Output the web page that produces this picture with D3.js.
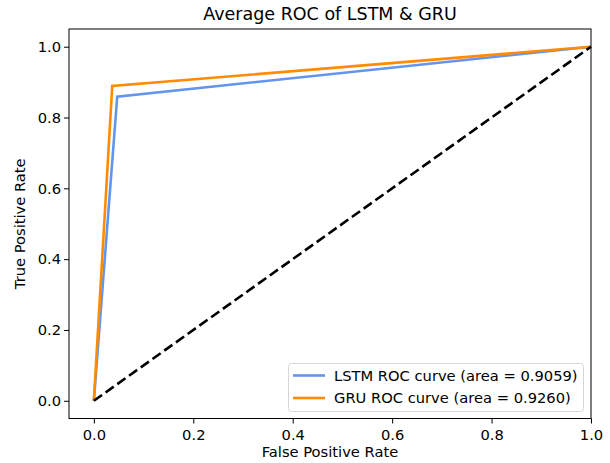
<!DOCTYPE html>
<meta charset="utf-8">
<script src="https://d3js.org/d3.v7.min.js"></script>
<style>
  body { margin: 0; background: #fff; }
  text { font-family: "DejaVu Sans", sans-serif; fill: #000; }
</style>
<div id="chart"></div>
<script>

// ROC points
var lstmFpr = [0, 0.047, 1];
var lstmTpr = [0, 0.859, 1];
var gruFpr = [0, 0.037, 1];
var gruTpr = [0, 0.889, 1];
var diagX = [0, 1];
var diagY = [0, 1];
var ticks = [0, 0.2, 0.4, 0.6, 0.8, 1.0];
var legendLabels = ["LSTM ROC curve (area = 0.9059)", "GRU ROC curve (area = 0.9260)"];
var colors = ["#6495ED", "#FF8C00"];

var W = 610, H = 463;
var mLeft = 69, mRight = 591, mTop = 29, mBottom = 418.5;
var fs = 14.7;

var svg = d3.select("#chart").append("svg")
  .attr("width", W)
  .attr("height", H);

var x = d3.scaleLinear().domain([-0.05, 1.0]).range([mLeft, mRight]);
var y = d3.scaleLinear().domain([-0.05, 1.05]).range([mBottom, mTop]);

var line = d3.line()
  .x(function(d) { return x(d[0]); })
  .y(function(d) { return y(d[1]); });

var g = svg.append("g");

// curves
g.append("path")
  .datum(d3.zip(lstmFpr, lstmTpr))
  .attr("d", line)
  .attr("fill", "none")
  .attr("stroke", colors[0])
  .attr("stroke-width", 2.6);

g.append("path")
  .datum(d3.zip(gruFpr, gruTpr))
  .attr("d", line)
  .attr("fill", "none")
  .attr("stroke", colors[1])
  .attr("stroke-width", 2.6);

g.append("path")
  .datum(d3.zip(diagX, diagY))
  .attr("d", line)
  .attr("fill", "none")
  .attr("stroke", "#000")
  .attr("stroke-width", 2.6)
  .attr("stroke-dasharray", "10,4.4");

// axes
svg.append("g")
  .attr("transform", "translate(0," + mBottom + ")")
  .call(d3.axisBottom(x).tickValues(ticks).tickFormat(d3.format(".1f")).tickSize(5).tickSizeOuter(0))
  .call(function(a) {
    a.select(".domain").remove();
    a.selectAll("text").attr("font-size", fs).attr("dy", "0.95em").style("font-family", "DejaVu Sans");
  });

svg.append("g")
  .attr("transform", "translate(" + mLeft + ",0)")
  .call(d3.axisLeft(y).tickValues(ticks).tickFormat(d3.format(".1f")).tickSize(5).tickSizeOuter(0))
  .call(function(a) {
    a.select(".domain").remove();
    a.selectAll("text").attr("font-size", fs).attr("x", -8).style("font-family", "DejaVu Sans");
  });

// frame
svg.append("rect")
  .attr("x", mLeft)
  .attr("y", mTop)
  .attr("width", mRight - mLeft)
  .attr("height", mBottom - mTop)
  .attr("fill", "none")
  .attr("stroke", "#000")
  .attr("stroke-width", 1);

// legend
var lg = svg.append("g");
lg.append("rect")
  .attr("x", 288.5)
  .attr("y", 363.5)
  .attr("width", 295)
  .attr("height", 48)
  .attr("rx", 3)
  .attr("fill", "#fff")
  .attr("fill-opacity", 0.8)
  .attr("stroke", "#d6d6d6");

legendLabels.forEach(function(t, i) {
  var yy = 375.5 + i * 22.5;
  lg.append("line")
    .attr("x1", 293).attr("x2", 325)
    .attr("y1", yy).attr("y2", yy)
    .attr("stroke", colors[i])
    .attr("stroke-width", 2.6);
  lg.append("text")
    .attr("x", 334)
    .attr("y", yy)
    .attr("dy", "0.35em")
    .attr("font-size", fs)
    .text(t);
});

// titles
svg.append("text")
  .attr("x", (mLeft + mRight) / 2)
  .attr("y", 20)
  .attr("text-anchor", "middle")
  .attr("font-size", 17.5)
  .text("Average ROC of LSTM & GRU");

svg.append("text")
  .attr("x", (mLeft + mRight) / 2)
  .attr("y", 457)
  .attr("text-anchor", "middle")
  .attr("font-size", fs)
  .text("False Positive Rate");

svg.append("text")
  .attr("transform", "translate(25," + ((mTop + mBottom) / 2) + ") rotate(-90)")
  .attr("text-anchor", "middle")
  .attr("font-size", fs)
  .text("True Positive Rate");

</script>
